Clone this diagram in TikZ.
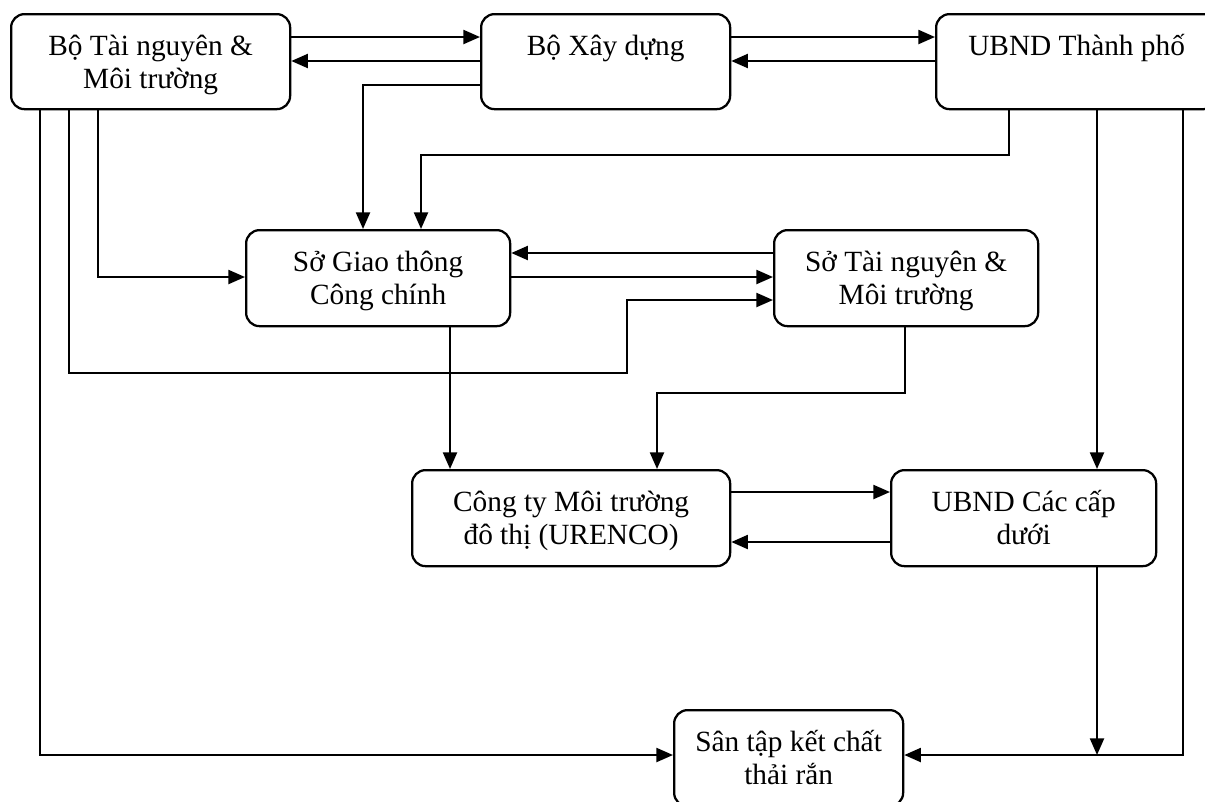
\documentclass[tikz,border=0pt]{standalone}
\usepackage{fontspec}
\setmainfont{Liberation Serif}
\usetikzlibrary{arrows.meta}
\newcommand\bxt[3]{\parbox[c][#2][t]{#1}{\centering\rule{0pt}{30.75pt}#3}}
\tikzset{
  blk/.style={draw, line width=1.7pt, rounded corners=10pt, inner sep=0pt, anchor=north west,
    font=\fontsize{22pt}{25pt}\selectfont},
  arr/.style={line width=1.7pt, -{Triangle[length=12.5pt,width=10.5pt]}},
  ln/.style={line width=1.7pt}
}
\begin{document}
\begin{tikzpicture}[x=0.75pt,y=-0.75pt]
\useasboundingbox (0,0) rectangle (1205,801);
\clip (0,0) rectangle (1205,801);
% boxes
\node[blk] (b1) at (10,13) {\bxt{209.25pt}{71.25pt}{Bộ Tài nguyên \&\\Môi trường}};
\node[blk] (b2) at (480,13) {\bxt{186.75pt}{71.25pt}{Bộ Xây dựng}};
\node[blk] (b3) at (935,13) {\bxt{210.75pt}{71.25pt}{UBND Thành phố}};
\node[blk] (b4) at (245,229) {\bxt{198pt}{72pt}{Sở Giao thông\\Công chính}};
\node[blk] (b5) at (773,229) {\bxt{198pt}{72pt}{Sở Tài nguyên \&\\Môi trường}};
\node[blk] (b6) at (411,469) {\bxt{238.5pt}{72pt}{Công ty Môi trường\\đô thị (URENCO)}};
\node[blk] (b7) at (890,469) {\bxt{198.75pt}{72pt}{UBND Các cấp\\dưới}};
\node[blk] (b8) at (673,709) {\bxt{171.75pt}{72pt}{Sân tập kết chất\\thải rắn}};
\coordinate (j) at (1097,755);
% connectors
\draw[arr] (b1.east |- 0,37) -- (b2.west |- 0,37);
\draw[arr] (b2.west |- 0,61) -- (b1.east |- 0,61);
\draw[arr] (b2.east |- 0,37) -- (b3.west |- 0,37);
\draw[arr] (b3.west |- 0,61) -- (b2.east |- 0,61);
\draw[arr] (b2.west |- 0,85) -| (b4.north -| 363,0);
\draw[arr] (b3.south -| 1009,0) |- (421,155) -- (b4.north -| 421,0);
\draw[arr] (b3.south -| 1097,0) -- (b7.north -| 1097,0);
\draw[arr] (b3.south -| 1183,0) |- (b8.east |- 0,755);
\draw[arr] (b1.south -| 40,0) |- (b8.west |- 0,755);
\draw[arr] (b1.south -| 98,0) |- (b4.west |- 0,277);
\draw[arr] (b1.south -| 69,0) |- (627,373) |- (b5.west |- 0,300);
\draw[arr] (b5.west |- 0,253) -- (b4.east |- 0,253);
\draw[arr] (b4.east |- 0,277) -- (b5.west |- 0,277);
\draw[arr] (b4.south -| 450,0) -- (b6.north -| 450,0);
\draw[arr] (b5.south -| 905,0) |- (657,393) -- (b6.north -| 657,0);
\draw[arr] (b6.east |- 0,492) -- (b7.west |- 0,492);
\draw[arr] (b7.west |- 0,542) -- (b6.east |- 0,542);
\draw[arr] (b7.south -| 1097,0) -- (j);
\end{tikzpicture}
\end{document}
